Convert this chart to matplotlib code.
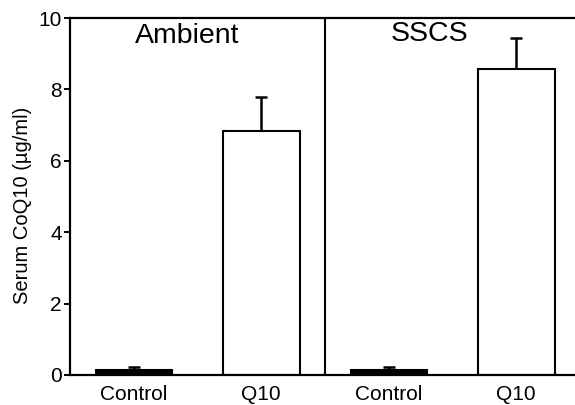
import matplotlib
matplotlib.use("Agg")
import matplotlib.pyplot as plt

plt.rcParams['font.family'] = ['Liberation Sans', 'DejaVu Sans']

# values
groups = ['Ambient', 'SSCS']
labels = ['Control', 'Q10', 'Control', 'Q10']
means = [0.14, 6.83, 0.14, 8.57]
errs = [0.08, 0.97, 0.08, 0.88]
colors = ['black', 'white', 'black', 'white']
positions = [0, 1, 2, 3]

fig = plt.figure(figsize=(5.75, 4.05), dpi=100)
ax = fig.add_axes([70 / 575, 30 / 405, 510 / 575, 357 / 405])

ax.bar(positions, means, width=0.6, color=colors, edgecolor='black', linewidth=1.5)
eb = ax.errorbar(positions, means, yerr=[[0] * 4, errs], fmt='none', ecolor='black',
                 elinewidth=1.8, capsize=4, capthick=1.8)
# only the upper cap
eb[1][0].set_visible(False)

ax.axvline(1.5, color='black', linewidth=1.5)
ax.text(0.42, 9.5, groups[0], ha='center', va='center', fontsize=20.5)
ax.text(2.32, 9.55, groups[1], ha='center', va='center', fontsize=20.5)

ax.set_xlim(-0.5, 3.5)
ax.set_ylim(0, 10)
ax.set_yticks([0, 2, 4, 6, 8, 10])
ax.set_xticks(positions)
ax.set_xticklabels(labels, fontsize=15)
ax.tick_params(axis='y', labelsize=15, length=4, width=1.4, direction='out', pad=2)
ax.tick_params(axis='x', length=0, pad=7)
ax.set_ylabel('Serum CoQ10 (µg/ml)', fontsize=14.5)
ax.yaxis.set_label_coords(-0.074, 0.476)
for s in ax.spines.values():
    s.set_linewidth(1.6)
ax.spines['right'].set_visible(False)

fig.savefig('out.png', dpi=100)
